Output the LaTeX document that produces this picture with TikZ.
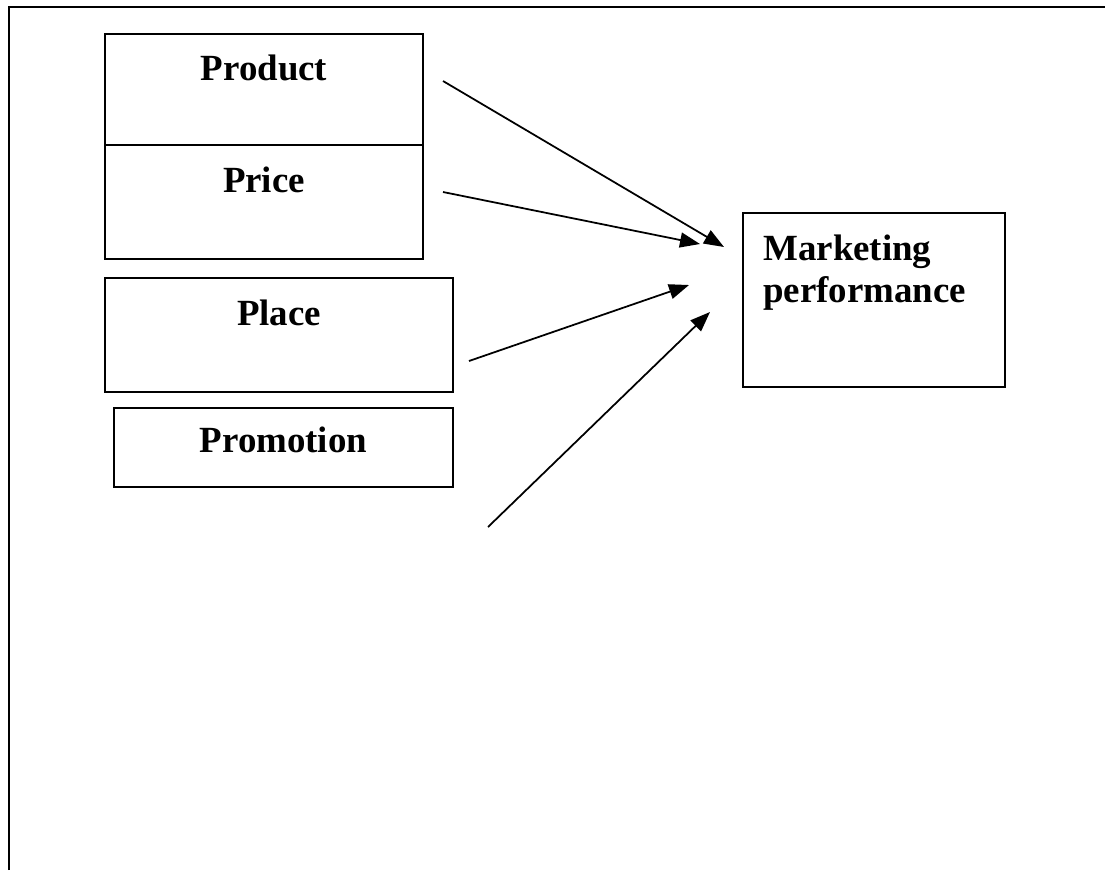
\documentclass[tikz,border=0pt]{standalone}
\usepackage{fontspec}
\setmainfont{Liberation Serif}
\usepackage{tikz}
\usetikzlibrary{arrows.meta, positioning}

\begin{document}
\begin{tikzpicture}[
    x=0.02cm, y=-0.02cm,
    >={Triangle[length=0.4cm, width=0.3cm]},
    mixbox/.style={rectangle, draw=black, line width=1pt, inner sep=0pt},
    lbl/.style={font=\fontsize{21pt}{23.9pt}\selectfont\bfseries, inner sep=0pt},
    link/.style={->, line width=1pt}
]
\useasboundingbox (0,0) rectangle (1105,870);
\draw[line width=1.4pt] (9,870) -- (9,7) -- (1105,7);

% the four Ps on the left
\node[mixbox, minimum width=6.36cm, minimum height=2.22cm] (product) at (264,89.5) {};
\node[mixbox, minimum width=6.36cm, minimum height=2.28cm] (price) at (264,202) {};
\node[mixbox, minimum width=6.96cm, minimum height=2.28cm] (place) at (279,335) {};
\node[mixbox, minimum width=6.78cm, minimum height=1.58cm] (promotion) at (283.5,447.5) {};
\node[mixbox, minimum width=5.24cm, minimum height=3.48cm] (perf) at (874,300) {};

\node[lbl, anchor=base] (productlbl) at (264,80) {Product};
\node[lbl, anchor=base] (pricelbl) at (264,192) {Price};
\node[lbl, anchor=base] (placelbl) at (279,325) {Place};
\node[lbl, anchor=base] (promotionlbl) at (283.5,452) {Promotion};
\node[lbl, anchor=base west, align=left] (perflbl) at (763,302) {Marketing\\performance};

\coordinate (p1s) at (443,81);  \coordinate (p1e) at (724,247);
\coordinate (p2s) at (443,192); \coordinate (p2e) at (700,244);
\coordinate (p3s) at (469,361); \coordinate (p3e) at (689,285);
\coordinate (p4s) at (488,527); \coordinate (p4e) at (710,312);
\foreach \a in {p1,p2,p3,p4} {
    \draw[link] (\a s) -- (\a e);
}
\end{tikzpicture}
\end{document}
